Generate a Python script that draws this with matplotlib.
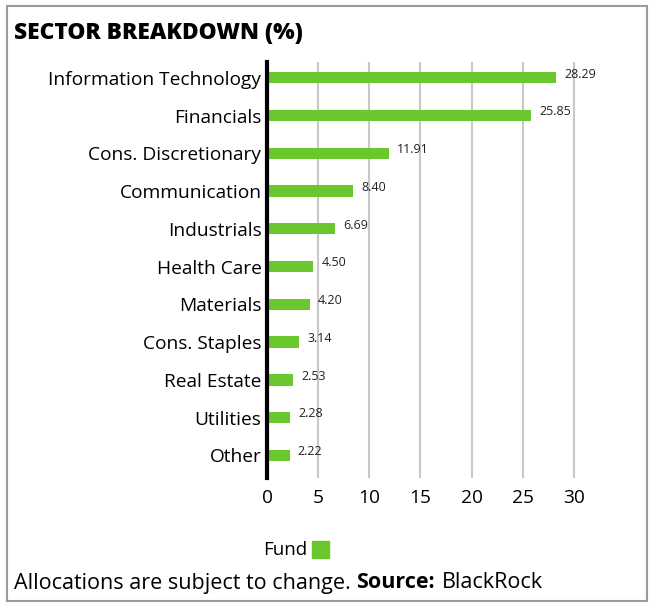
import matplotlib.pyplot as plt
from matplotlib.patches import Rectangle, FancyBboxPatch

sectors = ["Information Technology", "Financials", "Cons. Discretionary",
           "Communication", "Industrials", "Health Care", "Materials",
           "Cons. Staples", "Real Estate", "Utilities", "Other"]
weights = [28.29, 25.85, 11.91, 8.40, 6.69, 4.50, 4.20, 3.14, 2.53, 2.28, 2.22]
xticks = [0, 5, 10, 15, 20, 25, 30]

green = "#6cc72f"
plt.rcParams["font.family"] = ["Open Sans", "DejaVu Sans"]

fig = plt.figure(figsize=(6.58, 6.10), dpi=100)
ax = fig.add_axes([0.4058, 0.2164, 0.482, 0.682])

pos = list(range(len(sectors)))
ax.barh(pos, weights, height=0.3, color=green, zorder=3)
for p, w in zip(pos, weights):
    ax.text(w + 0.8, p - 0.1, f"{w:.2f}", fontsize=9, va="center", ha="left", color="#222222")

ax.set_yticks(pos)
ax.set_yticklabels(sectors, fontsize=13.8)
ax.set_xticks(xticks)
ax.set_xticklabels([str(t) for t in xticks], fontsize=13.8)
ax.set_xlim(0, 31)
ax.set_ylim(10.6, -0.42)
ax.tick_params(length=0, pad=4)
ax.tick_params(axis="x", pad=8)
ax.grid(axis="x", color="#c8c8c8", linewidth=1.5, zorder=0)
for s in ["top", "right", "bottom"]:
    ax.spines[s].set_visible(False)
ax.spines["left"].set_linewidth(3)
ax.spines["left"].set_color("black")
ax.spines["left"].set_zorder(4)

fig.text(14 / 658, 1 - 33 / 610, "SECTOR BREAKDOWN (%)", fontsize=16.4, fontweight="heavy", va="center")

# legend
fig.text(307 / 658, 1 - 550 / 610, "Fund", fontsize=13.5, ha="right", va="center")
fig.patches.append(Rectangle((312 / 658, 1 - 558 / 610), 17 / 658, 17 / 610,
                             transform=fig.transFigure, color=green))

# footer with bold part
r = fig.canvas.get_renderer()
base = fig.text(14 / 658, 1 - 583 / 610, "Allocations are subject to change. ", fontsize=15.5, va="center")
bb = base.get_window_extent(r)
src = fig.text(bb.x1 / 658, 1 - 583 / 610, "Source:", fontsize=15.5, fontweight="bold", va="center")
bb2 = src.get_window_extent(r)
fig.text(bb2.x1 / 658 + 7 / 658, 1 - 583 / 610, "BlackRock", fontsize=15.5, va="center")

fig.patches.append(FancyBboxPatch((7 / 658, 1 - 601 / 610), 640 / 658, 595 / 610,
                                  boxstyle="square,pad=0", transform=fig.transFigure,
                                  fill=False, edgecolor="#9a9a9a", linewidth=1.5))

fig.savefig("out.png", dpi=100)
